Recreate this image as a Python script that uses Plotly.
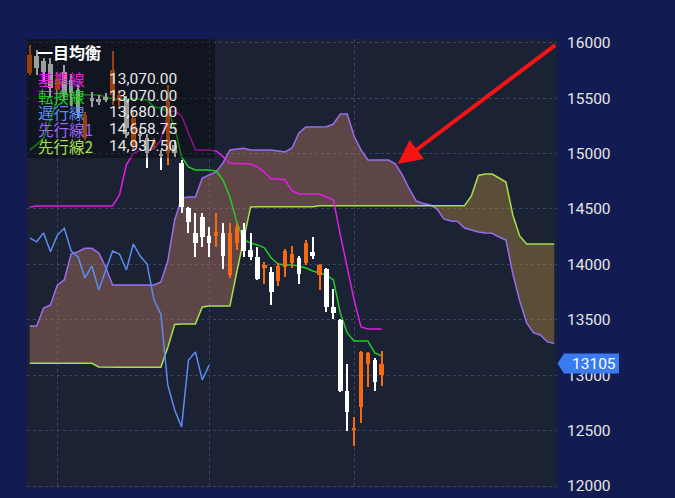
import plotly.graph_objects as go

# ---------------- data ----------------
bar_idx = list(range(52))
opens = [15727, 15880, 15835, 15808, 15573, 15736, 15664, 15573, 15140, 15501,
         15492, 15510, 15528, 15474, 15483, 15077, 15176, 15140, 15086, 14996,
         15005, 15077, 14915, 14506, 14286, 14430, 14256, 14256, 14286, 13904,
         14195, 14310, 14130, 14064, 13964, 13934, 13852, 13973, 14015, 14055,
         14009, 14114, 13904, 13955, 13618, 13498, 12860, 12510, 12716, 13101,
         13137, 13002]
highs = [15979, 15934, 15862, 15862, 15736, 15799, 15718, 15618, 15375, 15555,
         15528, 15546, 15925, 15573, 15519, 15375, 15230, 15176, 15140, 15032,
         15618, 15122, 14942, 14520, 14461, 14461, 14340, 14466, 14370, 14370,
         14376, 14370, 14280, 14159, 14024, 13973, 14010, 14136, 14166, 14075,
         14220, 14244, 14003, 13964, 13775, 13510, 13101, 12626, 13215, 13205,
         13152, 13221]
lows = [15709, 15709, 15645, 15501, 15519, 15483, 15429, 15321, 15122, 15420,
        15438, 15465, 15438, 15411, 15140, 15032, 15104, 14869, 15041, 14851,
        14897, 14969, 14463, 14280, 14064, 14159, 14064, 14159, 13955, 13880,
        14130, 14069, 14040, 13859, 13823, 13633, 13805, 13889, 13964, 13823,
        13994, 14046, 13769, 13573, 13504, 12850, 12499, 12361, 12566, 12891,
        12860, 12902]
closes = [15889, 15772, 15736, 15591, 15682, 15528, 15546, 15375, 15348, 15474,
          15465, 15483, 15754, 15528, 15230, 15321, 15158, 15005, 15113, 14978,
          15474, 15005, 14517, 14385, 14195, 14244, 14195, 14295, 14075, 14286,
          14340, 14124, 14064, 13865, 13994, 13753, 13985, 14124, 14094, 13913,
          14195, 14075, 13994, 13618, 13558, 12860, 12670, 12518, 13212, 13197,
          12941, 13105]

tenkan = [15030, 15080, 15140, 15300, 15500, 15530, 15530, 15528, 15528, 15528,
          15528, 15510, 15492, 15492, 15492, 15492, 15492, 15483, 15420, 15410,
          15380, 15240, 14969, 14878, 14851, 14851, 14851, 14842, 14761, 14608,
          14382, 14220, 14193, 14175, 14148, 14057, 14003, 13994, 13994, 13985,
          13967, 13940, 13922, 13904, 13859, 13561, 13381, 13308, 13308, 13308,
          13200, 13173]
kijun = [14518, 14527, 14527, 14527, 14527, 14527, 14527, 14527, 14527, 14527,
         14527, 14527, 14527, 14626, 14897, 15000, 15030, 15032, 15040, 15122,
         15370, 15384, 15340, 15186, 15032, 15032, 15032, 15023, 14972, 14912,
         14911, 14911, 14905, 14878, 14833, 14770, 14770, 14761, 14662, 14635,
         14635, 14635, 14635, 14608, 14581, 14266, 13976, 13679, 13435, 13417,
         13417, 13417]
chikou_idx = list(range(27))
chikou = [14238, 14203, 14284, 14113, 14264, 14327, 14120, 14066, 13877, 13985,
          13768, 13949, 14120, 14093, 13949, 14183, 14075, 14003, 13678, 13552,
          12912, 12686, 12533, 13137, 13209, 12957, 13092]
span_idx = list(range(77))
senkou_a = [13444, 13444, 13606, 13633, 13814, 13859, 14093, 14114, 14145, 14145,
            14102, 13976, 13814, 13814, 13814, 13814, 13814, 13814, 13814, 13841,
            14030, 14400, 14598, 14607, 14607, 14778, 14806, 14833, 14915, 15032,
            15041, 15047, 15032, 15032, 15032, 15032, 15023, 15014, 15050, 15185,
            15239, 15242, 15242, 15242, 15266, 15357, 15357, 15158, 15032, 14941,
            14941, 14941, 14941, 14905, 14806, 14680, 14572, 14549, 14536, 14500,
            14410, 14391, 14387, 14328, 14310, 14292, 14283, 14280, 14247, 14220,
            13913, 13670, 13471, 13381, 13363, 13300, 13288]
senkou_b = ([13107] * 10 + [13074] + [13071] * 9 +
            [13249, 13457, 13462, 13462, 13462, 13615, 13624, 13624, 13624, 13624,
             13931, 14233, 14518] + [14520] * 9 + [14529] * 22 +
            [14618, 14802, 14815, 14815, 14779, 14743, 14445, 14256, 14184,
             14184, 14184, 14184, 14184])

y_ticks = [12000, 12500, 13000, 13500, 14000, 14500, 15000, 15500, 16000]
month_marks = [4, 26, 47]
last_price = 13105
legend_names = ['基準線', '転換線', '遅行線', '先行線1', '先行線2']
legend_values = [13070.00, 13070.00, 13680.00, 14658.75, 14937.50]
title_text = '一目均衡'

# ---------------- styles ----------------
C_KIJUN = '#e21ee2'
C_TENKAN = '#22cc22'
C_CHIKOU = '#5b8def'
C_SPAN_A = '#9b6cf0'
C_SPAN_B = '#a6e04a'
C_UP = '#f76a14'
C_DOWN = '#ffffff'
FILL_A = 'rgba(178,116,96,0.45)'
FILL_B = 'rgba(171,134,65,0.45)'
JP = 'Noto Sans CJK JP'
NUM = 'Roboto'
BODY_W = 0.66
WICK_W = 0.16
MIN_BODY = 10
X_RANGE = [-0.4, 76.4]
Y_RANGE = [11982, 16033]

span_max = [max(a, b) for a, b in zip(senkou_a, senkou_b)]
candle_colors = [C_UP if c > o else C_DOWN for o, c in zip(opens, closes)]
body_base = [min(o, c) for o, c in zip(opens, closes)]
body_len = [max(abs(c - o), MIN_BODY) for o, c in zip(opens, closes)]
wick_len = [h - l for h, l in zip(highs, lows)]

fig = go.Figure()
# cloud: A above B
fig.add_trace(go.Scatter(x=span_idx, y=senkou_b, mode='lines', line=dict(width=0),
                         hoverinfo='skip'))
fig.add_trace(go.Scatter(x=span_idx, y=span_max, mode='lines', line=dict(width=0),
                         fill='tonexty', fillcolor=FILL_A, hoverinfo='skip'))
# cloud: B above A
fig.add_trace(go.Scatter(x=span_idx, y=senkou_a, mode='lines', line=dict(width=0),
                         hoverinfo='skip'))
fig.add_trace(go.Scatter(x=span_idx, y=span_max, mode='lines', line=dict(width=0),
                         fill='tonexty', fillcolor=FILL_B, hoverinfo='skip'))

fig.add_trace(go.Scatter(x=span_idx, y=senkou_a, mode='lines',
                         line=dict(color=C_SPAN_A, width=1.5)))
fig.add_trace(go.Scatter(x=span_idx, y=senkou_b, mode='lines',
                         line=dict(color=C_SPAN_B, width=1.5)))
fig.add_trace(go.Scatter(x=chikou_idx, y=chikou, mode='lines',
                         line=dict(color=C_CHIKOU, width=1.5)))
fig.add_trace(go.Scatter(x=bar_idx, y=kijun, mode='lines',
                         line=dict(color=C_KIJUN, width=1.5)))
fig.add_trace(go.Scatter(x=bar_idx, y=tenkan, mode='lines',
                         line=dict(color=C_TENKAN, width=1.5)))

# candles on an overlaying axis pair so they sit above the cloud
fig.add_trace(go.Bar(x=bar_idx, y=wick_len, base=lows, width=WICK_W,
                     marker=dict(color=candle_colors, line=dict(width=0)),
                     xaxis='x2', yaxis='y2', hoverinfo='skip'))
fig.add_trace(go.Bar(x=bar_idx, y=body_len, base=body_base, width=BODY_W,
                     marker=dict(color=candle_colors, line=dict(width=0)),
                     xaxis='x2', yaxis='y2', hoverinfo='skip'))

# ---------------- layout ----------------
ML, MT, PW, PH = 27, 39, 530.5, 449


def px(x):
    return (x - ML) / PW


def py(y):
    return (MT + PH - y) / PH


fig.update_layout(
    width=675, height=498,
    margin=dict(l=ML, r=675 - ML - PW, t=MT, b=498 - MT - PH, autoexpand=False),
    paper_bgcolor='#131c52', plot_bgcolor='#1b2234',
    showlegend=False, hovermode=False, barmode='overlay', bargap=0,
    font=dict(family=NUM, color='#e6e6e6'),
    xaxis2=dict(overlaying='x', range=X_RANGE, visible=False),
    yaxis2=dict(overlaying='y', range=Y_RANGE, visible=False),
)
fig.update_xaxes(selector=dict(overlaying=None))
fig.layout.xaxis.update(range=X_RANGE, tickvals=month_marks, showticklabels=False,
                        showgrid=True, gridcolor='#3a4663', griddash='dot', gridwidth=1,
                        zeroline=False, showline=False, ticks='')
fig.layout.yaxis.update(range=Y_RANGE, side='right', tickvals=y_ticks, tickformat='d',
                        showgrid=True, gridcolor='#3a4663', griddash='dot', gridwidth=1,
                        zeroline=False, showline=False, ticks='',
                        tickfont=dict(family=NUM, size=15.5, color='#e6e6e6'),
                        ticklabelstandoff=9)

shapes = [
    # legend panel (semi-transparent, above the marks)
    dict(type='rect', xref='paper', yref='paper', x0=0, x1=px(215), y0=py(158), y1=1,
         fillcolor='rgba(0,0,0,0.38)', line=dict(width=0), layer='above'),
    # last price tag
    dict(type='path', xref='paper', yref='y', xsizemode='pixel', ysizemode='pixel',
         xanchor=1, yanchor=last_price,
         path='M0.5,0 L7,-10 L62,-10 L62,10 L7,10 Z',
         fillcolor='#3a7bf2', line=dict(width=0), layer='above'),
]
fig.update_layout(shapes=shapes)

annotations = [
    dict(xref='paper', yref='paper', x=px(35), y=py(52), xanchor='left', yanchor='middle',
         text='<b>' + title_text + '</b>', showarrow=False,
         font=dict(family=JP, size=16, color='#ffffff')),
    dict(xref='paper', yref='y', x=1, xshift=37, y=last_price, xanchor='center',
         yanchor='middle', text=str(last_price), showarrow=False,
         font=dict(family=NUM, size=15.5, color='#ffffff')),
]
row_y = [79, 96, 112.5, 129, 146]
row_colors = [C_KIJUN, C_TENKAN, C_CHIKOU, '#9a66ee', C_SPAN_B]
for name, val, yy, col in zip(legend_names, legend_values, row_y, row_colors):
    annotations.append(dict(xref='paper', yref='paper', x=px(36), y=py(yy),
                            xanchor='left', yanchor='middle', text=name,
                            showarrow=False, font=dict(family=JP, size=15.5, color=col)))
    annotations.append(dict(xref='paper', yref='paper', x=px(107), y=py(yy),
                            xanchor='left', yanchor='middle', text=f'{val:,.2f}',
                            showarrow=False, font=dict(family=NUM, size=15.5, color='#e8e8e8')))

# red pointer arrow
annotations.append(dict(xref='paper', yref='paper', x=px(398), y=py(164),
                        ax=557 - 398, ay=44 - 164, axref='pixel', ayref='pixel',
                        text='', showarrow=True, arrowhead=2, arrowsize=1.2,
                        arrowwidth=4, arrowcolor='#f41414'))
fig.update_layout(annotations=annotations)

fig.write_html('out.html', config={'displayModeBar': False},
               post_script="document.body.style.margin='0';"
                           "document.body.style.background='#131c52';")
